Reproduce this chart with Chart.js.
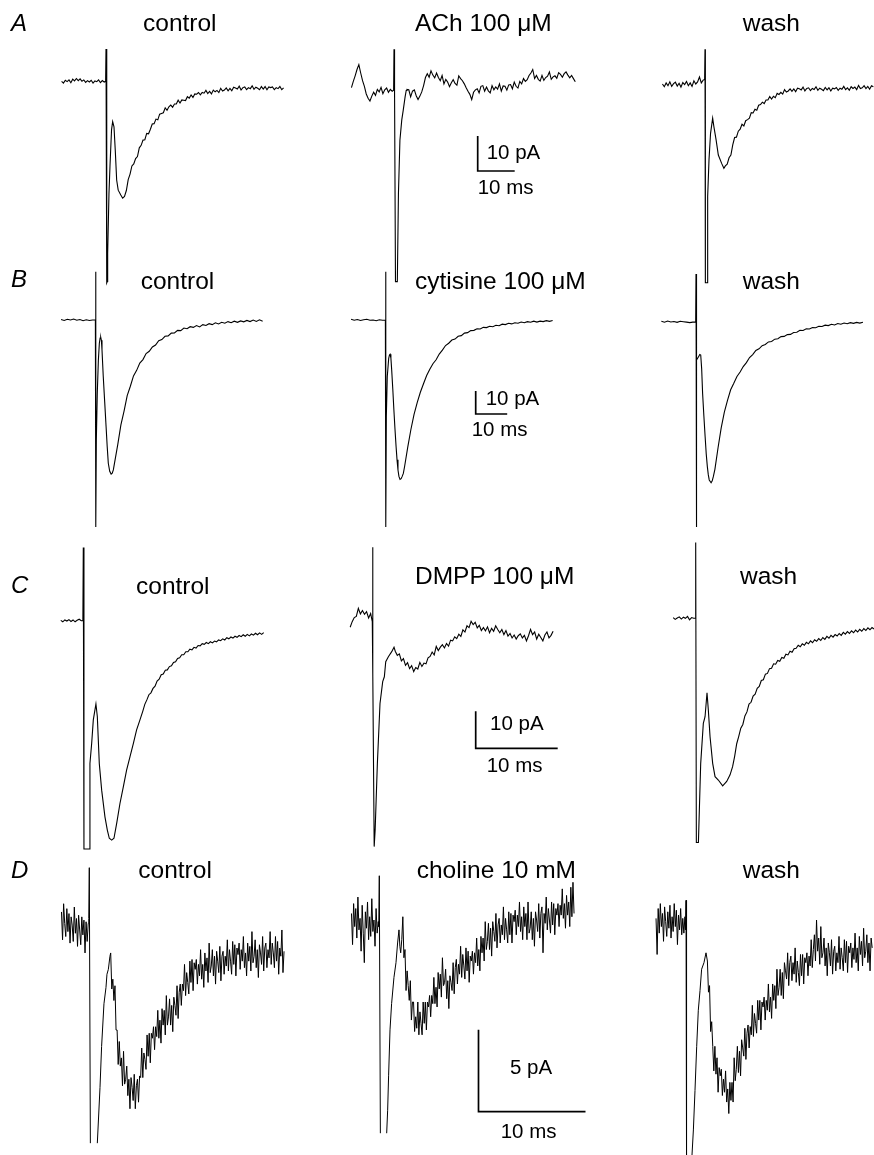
<!DOCTYPE html>
<html><head><meta charset="utf-8">
<script src="https://cdn.jsdelivr.net/npm/chart.js@4.4.1/dist/chart.umd.min.js"></script>
<style>
html,body{margin:0;padding:0;background:#fff;}
#fig{position:relative;width:874px;height:1155px;overflow:hidden;background:#fff;}
#fig canvas{position:absolute;left:0;top:0;}
.t{position:absolute;font-family:"Liberation Sans",Arial,Helvetica,sans-serif;color:#000;white-space:nowrap;line-height:1;}
</style></head><body><div id="fig"></div>
<script>
// ---------- DATA (time in ms from stimulus, current in pA relative to baseline) ----------
// Row A : ACh
const A1_pre  = [0.2,-0.3,0.5,0.1,0.6,-0.2,0.8,0.3,1.0,0.4,0.9,0.2,0.6,-0.1,0.4,0.0,0.5,-0.3,0.3,0.1,0.6,-0.2,0.4,0.0];
const A1_fast = [[-0.1,0.2],[0,9.4],[0.2,-57.4],[0.35,-57.0],[0.45,-48.9],[0.8,-32.0],[1.08,-24.0],[1.5,-13.6],[1.8,-11.3],[2.16,-12.8],[2.5,-19.4],[2.88,-28.0],[3.3,-30.9],[4.0,-32.3],[4.5,-33.2]];
const A1_post = [-32.7,-31.0,-27.9,-26.3,-24.0,-23.4,-21.9,-21.3,-18.8,-18.1,-16.6,-16.5,-14.7,-14.8,-13.5,-12.0,-11.9,-10.6,-10.8,-9.2,-9.0,-8.8,-7.4,-8.1,-7.1,-6.6,-7.2,-6.3,-6.3,-5.2,-6.0,-5.1,-5.2,-5.3,-4.2,-4.6,-3.7,-4.4,-3.4,-3.5,-3.0,-3.7,-3.0,-3.2,-2.4,-3.3,-2.7,-3.4,-2.3,-2.8,-2.4,-3.0,-1.8,-2.6,-2.3,-1.7,-2.5,-1.8,-2.5,-1.5,-1.7,-2.0,-1.2,-2.3,-1.6,-1.4,-2.2,-1.6,-1.9,-1.1,-2.1,-1.5,-1.8,-2.2,-1.3,-2.0,-1.3,-2.2,-1.4,-1.6,-1.4,-2.2,-1.6,-1.9,-1.3,-2.2,-1.7];
const A2_pre  = [0.0,1.8,3.4,5.2,6.6,4.2,2.0,0.4,-1.8,-3.0,-3.8,-2.4,-1.3,-2.2,-0.5,-1.2,0.1,-1.7,-0.6,-0.1,-1.3,-0.5,-1.0];
const A2_fast = [[-0.1,-0.7],[0,11.0],[0.15,-1.0],[0.4,-55.4],[0.9,-55.4],[1.2,-30.2],[1.6,-15.0],[2.1,-9.2],[2.5,-6.4],[3.0,-2.6],[3.3,-0.8]];
const A2_post = [-0.5,-0.6,-2.6,-1.0,-0.6,-2.3,-3.4,-2.4,-1.2,0.6,2.9,4.0,3.0,4.8,3.6,2.8,4.2,2.9,2.0,3.5,1.1,2.4,1.6,0.3,1.4,2.3,1.2,0.7,3.4,2.6,2.0,1.1,0.0,-1.0,-1.9,-3.4,-1.3,-0.6,-0.3,-1.5,0.4,0.6,-1.0,0.2,-0.9,-1.5,0.6,-0.6,0.2,-0.4,1.1,-1.0,0.5,0.4,-0.7,0.8,0.9,-0.3,1.6,0.4,-0.1,1.8,1.1,2.6,1.8,2.3,3.5,4.2,5.2,2.6,3.5,2.4,1.9,3.5,2.1,2.9,3.3,4.5,2.4,3.1,3.4,2.7,4.3,3.8,3.0,4.0,4.5,3.6,2.8,3.5,2.6,1.7];
const A3_pre  = [0.3,-0.5,0.6,-0.2,0.9,-0.4,0.4,0.8,-0.3,0.5,-0.6,0.7,0.1,1.0,-0.2,0.6,-0.4,1.2,0.3,0.9,2.3,0.6,1.4];
const A3_fast = [[-0.1,1.6],[0,10.2],[0.1,-56.5],[0.6,-56.5],[0.72,-31.9],[1.08,-21.4],[1.5,-13.8],[2.07,-9.5],[2.4,-11.9],[3.0,-15.7],[3.6,-20.0],[4.5,-22.4],[5.1,-23.8]];
const A3_post = [-23.1,-22.6,-20.8,-20.0,-17.1,-15.0,-14.9,-13.2,-12.6,-11.2,-11.7,-10.2,-9.9,-9.5,-7.9,-8.0,-6.9,-7.2,-5.8,-5.6,-4.9,-5.3,-4.3,-4.3,-3.3,-4.0,-3.2,-3.6,-2.4,-2.7,-2.1,-2.6,-1.3,-2.0,-1.7,-1.1,-1.8,-1.1,-1.9,-0.9,-1.1,-1.4,-0.6,-1.7,-1.0,-0.8,-1.6,-1.0,-1.3,-0.5,-1.5,-0.9,-1.2,-1.6,-0.7,-1.4,-0.8,-1.7,-0.9,-1.1,-0.7,-1.5,-0.9,-1.2,-0.4,-1.3,-0.8,-1.5,-0.5,-1.0,-0.6,-1.3,-0.1,-1.0,-0.8,-0.2,-1.0,-0.4,-1.2,-0.2,-0.5];
// Row B : cytisine
const B1_pre  = [0.2,-0.2,0.3,0.0,0.4,-0.1,0.2,-0.3,0.1,-0.2,0.0];
const B1_fast = [[-0.1,0.0],[0,21.0],[0.05,-90.0],[0.2,-52.2],[0.5,-31.9],[0.85,-17.4],[1.16,-10.1],[1.4,-7.8],[1.6,-7.5],[1.8,-8.8],[2.0,-13.0],[2.4,-24.6],[2.85,-35.5],[3.3,-46.4],[3.65,-55.0],[4.0,-62.3],[4.45,-65.8],[4.9,-67.0],[5.25,-66.6],[5.6,-65.2]];
const B1_post = [-62.0,-54.2,-45.6,-39.6,-32.9,-28.8,-24.3,-21.9,-18.7,-17.2,-14.6,-13.6,-11.7,-10.9,-9.0,-8.5,-7.1,-6.9,-5.7,-5.6,-4.5,-4.6,-3.5,-3.8,-2.9,-3.2,-2.4,-3.0,-2.0,-2.4,-1.6,-2.0,-1.2,-1.7,-1.0,-1.4,-0.7,-1.2,-0.5,-1.0,-0.4,-0.8,-0.2,-0.7,0.0,-0.6,0.1,-0.5];
const B2_pre  = [0.3,-0.1,0.2,-0.2,0.1,0.3,-0.1,0.0,-0.3,0.1,-0.1];
const B2_fast = [[-0.1,-0.1],[0,21.0],[0.05,-90.0],[0.2,-42.0],[0.5,-24.6],[0.95,-16.7],[1.2,-15.2],[1.4,-14.9],[1.65,-16.5],[1.9,-21.7],[2.25,-30.0],[2.6,-39.1],[2.95,-47.5],[3.3,-55.1],[3.6,-60.8],[3.9,-65.2],[4.2,-68.0],[4.55,-69.3],[4.9,-69.0],[5.2,-68.1],[5.6,-66.7]];
const B2_post = [-63.7,-55.3,-47.6,-41.0,-35.9,-31.4,-27.7,-24.1,-21.4,-19.0,-17.3,-14.8,-13.1,-11.1,-10.1,-8.7,-8.3,-7.1,-6.8,-5.7,-5.5,-4.6,-4.5,-3.8,-3.9,-3.2,-3.3,-2.7,-2.9,-2.3,-2.5,-1.8,-2.0,-1.4,-1.7,-1.2,-1.4,-0.9,-1.2,-0.7,-1.0,-0.5,-0.9,-0.5,-0.7,-0.3,-0.6,-0.2];
const B3_pre  = [0.2,-0.2,0.3,-0.1,0.1,-0.3,0.2,0.0,-0.2,-0.4,-0.2];
const B3_fast = [[-0.1,-0.2],[0,20.7],[0.05,-89.3],[0.15,-40.0],[0.3,-16.7],[0.9,-15.0],[1.2,-14.3],[1.5,-14.5],[1.8,-20.5],[2.1,-31.2],[2.5,-41.0],[2.9,-50.0],[3.25,-57.5],[3.6,-63.0],[3.9,-66.5],[4.2,-68.8],[4.8,-70.0],[5.15,-69.2],[5.5,-67.4]];
const B3_post = [-64.2,-54.8,-46.2,-39.3,-34.2,-29.6,-26.8,-23.8,-21.9,-19.5,-17.8,-15.6,-14.3,-12.5,-11.8,-10.4,-9.9,-8.8,-8.6,-7.6,-7.4,-6.5,-6.4,-5.6,-5.5,-4.7,-4.6,-3.7,-3.8,-3.1,-3.2,-2.5,-2.6,-2.0,-2.1,-1.5,-1.7,-1.1,-1.4,-0.8,-1.1,-0.6,-0.9,-0.4,-0.7,-0.3,-0.6,-0.2];
// Row C : DMPP
const C1_pre  = [0.1,-0.3,0.2,-0.1,0.3,-0.2,0.2,-0.3,0.1,0.4,0.0];
const C1_fast = [[-0.05,0.0],[0,19.8],[0.08,-61.7],[0.73,-61.7],[0.81,-38.6],[1.02,-33.2],[1.22,-26.8],[1.54,-22.5],[1.71,-25.9],[1.95,-38.6],[2.24,-45.8],[2.64,-53.0],[2.93,-56.6],[3.17,-58.8],[3.46,-59.3],[3.74,-58.8],[4.07,-54.8],[4.47,-49.4],[4.88,-44.9],[5.28,-40.4],[5.69,-36.8],[6.10,-33.2],[6.50,-29.5],[6.91,-26.8]];
const C1_post = [-26.2,-24.5,-22.6,-21.4,-20.0,-19.5,-18.3,-17.7,-16.3,-15.8,-14.6,-14.4,-13.4,-13.3,-12.4,-12.2,-11.3,-11.1,-10.2,-10.0,-9.2,-9.2,-8.4,-8.4,-7.7,-7.9,-7.2,-7.4,-6.7,-6.8,-6.2,-6.4,-5.9,-6.2,-5.7,-6.0,-5.5,-5.7,-5.2,-5.4,-4.9,-5.2,-4.6,-4.9,-4.4,-4.7,-4.2,-4.5,-4.0,-4.3,-3.8,-4.2,-3.7,-4.1,-3.6,-3.9,-3.4,-3.8,-3.3,-3.7,-3.2];
const C2_pre  = [-3.3,-1.8,-0.7,-0.4,1.8,0.3,1.2,0.2,0.9,-0.8,0.4];
const C2_fast = [[-0.05,-1.8],[0,18.3],[0.02,-15.8],[0.18,-62.6],[0.3,-58.0],[0.57,-40.1],[0.89,-23.9],[1.22,-18.0],[1.42,-16.7],[1.59,-12.6],[1.91,-11.3],[2.32,-9.9],[2.6,-8.7]];
const C2_post = [-9.8,-10.9,-10.5,-12.4,-11.8,-13.6,-12.9,-14.5,-13.7,-15.3,-14.2,-14.6,-12.8,-13.9,-13.0,-13.2,-11.6,-11.2,-10.0,-10.8,-8.5,-9.6,-8.7,-8.0,-8.9,-7.7,-8.4,-6.8,-7.0,-5.9,-6.4,-5.2,-5.8,-4.0,-4.6,-2.9,-3.4,-1.7,-2.6,-2.0,-3.5,-2.8,-4.2,-3.4,-4.3,-3.2,-4.8,-3.6,-4.4,-2.9,-3.9,-4.8,-3.9,-5.3,-4.2,-5.7,-5.0,-6.2,-5.4,-6.5,-5.6,-5.1,-6.2,-5.5,-7.0,-5.6,-3.9,-5.3,-4.6,-6.5,-5.2,-6.1,-7.0,-5.4,-4.6,-6.2,-5.5,-4.4];
const C3_pre  = [0.2,-0.3,0.1,0.4,-0.2,0.3,0.0,0.5,-0.4,0.2,0.0];
const C3_fast = [[-0.05,0.0],[0,20.5],[0.08,-60.6],[0.33,-60.6],[0.61,-39.2],[0.93,-28.4],[1.14,-26.6],[1.38,-20.1],[1.54,-24.8],[1.75,-32.0],[2.07,-39.2],[2.36,-42.8],[2.76,-43.7],[3.29,-45.3],[3.78,-44.1],[4.19,-42.3]];
const C3_post = [-40.1,-37.3,-33.9,-31.9,-29.7,-28.7,-26.4,-25.3,-23.2,-22.7,-21.0,-20.5,-18.9,-18.4,-16.8,-16.6,-15.1,-14.9,-13.6,-13.5,-12.3,-12.4,-11.4,-11.6,-10.6,-10.8,-9.7,-9.9,-8.9,-9.2,-8.2,-8.1,-7.3,-7.7,-6.9,-7.3,-6.5,-6.9,-6.1,-6.6,-5.8,-6.2,-5.5,-6.0,-5.2,-5.7,-4.9,-5.4,-4.6,-5.1,-4.4,-4.8,-4.1,-4.6,-3.8,-4.3,-3.6,-4.1,-3.4,-3.9,-3.2,-3.7,-3.0,-3.5,-2.8,-3.3,-2.6,-3.1,-2.5,-2.9];
// Row D : choline
const D1_pre  = [0.9,-0.8,1.4,0.2,-0.6,1.1,-0.3,0.8,-1.0,0.6,0.1,-0.9,1.2,-0.4,0.5,-1.2,0.7,-0.2,-1.1,0.6,-0.5,0.4,-1.6,0.3,-0.9,0.2];
const D1_fast = [[-0.05,0.5],[0,3.6],[0.1,-13.2],[0.4,null],[0.75,-13.2],[1.0,-9.8],[1.15,-7.3],[1.37,-4.7],[1.56,-3.7],[1.65,-2.9],[1.78,-2.6],[1.93,-1.8]];
const D1_post = [-1.6,-3.8,-3.2,-4.5,-3.6,-6.3,-6.3,-8.4,-7.0,-8.5,-8.0,-9.7,-7.6,-9.6,-9.3,-8.5,-10.3,-9.3,-11.1,-9.2,-9.8,-10.6,-9.0,-11.1,-9.7,-9.3,-10.7,-9.1,-9.2,-7.4,-9.2,-7.7,-8.1,-8.7,-6.6,-7.9,-6.5,-8.3,-6.5,-6.8,-6.1,-7.5,-6.1,-6.7,-5.1,-6.8,-5.7,-7.1,-5.0,-6.0,-5.1,-6.6,-4.2,-6.0,-5.5,-4.4,-6.0,-4.8,-6.4,-4.3,-4.8,-5.4,-3.6,-5.6,-4.0,-3.5,-4.8,-3.5,-3.9,-2.3,-4.2,-2.8,-3.4,-4.1,-2.1,-3.4,-2.0,-3.9,-2.2,-2.6,-2.0,-3.5,-2.3,-3.0,-1.4,-3.2,-2.3,-3.7,-1.6,-2.7,-1.9,-3.4,-1.0,-2.8,-2.4,-1.4,-3.0,-1.8,-3.5,-1.5,-2.1,-2.8,-1.2,-3.3,-1.8,-1.5,-2.9,-1.8,-2.4,-0.8,-2.7,-1.4,-2.1,-2.9,-0.9,-2.3,-1.1,-3.0,-1.3,-1.7,-1.0,-2.6,-1.4,-2.1,-0.6,-2.5,-1.6,-3.0,-1.0,-2.1,-1.2,-2.7,-0.3,-2.2,-1.8,-0.8,-2.5,-1.4,-3.1,-1.1,-1.6,-2.3,-0.6,-2.7,-1.3,-1.0,-2.5,-1.4,-1.9,-0.3,-2.3,-1.0,-1.6,-2.5,-0.6,-2.1,-0.9,-2.9,-1.3,-1.8,-0.2,-2.8,-1.5];
const D2_pre  = [0.6,-1.3,1.2,-0.2,0.9,-0.9,1.6,-0.4,0.3,-1.7,1.1,-0.6,-2.4,0.7,-0.3,1.3,-1.0,0.4,-0.8,1.5,-0.5,0.2,-1.4,0.9,-0.6,0.1];
const D2_fast = [[-0.05,-0.2],[0,2.9],[0.1,-12.8],[0.4,null],[0.69,-12.8],[0.78,-11.4],[0.87,-9.3],[1.0,-6.5],[1.15,-4.9],[1.37,-3.3],[1.56,-2.4],[1.71,-1.2],[1.84,-0.4],[1.92,-1.4]];
const D2_post = [-1.8,-1.0,0.4,-2.1,-1.6,-4.1,-2.9,-3.8,-4.7,-3.5,-5.9,-4.8,-4.8,-6.6,-5.7,-6.4,-4.8,-6.8,-5.4,-6.1,-6.8,-4.8,-6.1,-4.8,-6.5,-4.8,-5.1,-4.4,-5.7,-4.4,-4.9,-3.3,-4.9,-3.9,-5.1,-3.0,-4.0,-3.1,-4.5,-2.1,-3.8,-3.6,-2.8,-4.6,-3.5,-5.2,-3.2,-3.6,-4.1,-2.4,-4.3,-2.7,-2.2,-3.7,-2.5,-3.1,-1.4,-3.3,-1.9,-2.6,-3.4,-1.5,-2.9,-1.7,-3.6,-2.0,-2.3,-1.7,-3.1,-1.8,-2.4,-0.9,-2.6,-1.6,-2.9,-0.8,-1.8,-0.9,-2.3,0.1,-1.6,-1.1,0.0,-1.6,-0.3,-2.0,0.1,-0.5,-1.1,0.6,-1.5,-0.1,0.3,-1.2,-0.1,-0.7,1.0,-1.0,0.3,-0.4,-1.2,0.7,-0.7,0.6,-1.2,0.5,0.1,0.8,-0.7,0.5,-0.2,1.3,-0.5,0.4,-1.0,1.0,-0.2,0.6,-1.0,1.3,-0.6,-0.3,0.7,-1.0,0.3,-1.4,0.7,0.2,-0.5,1.2,-0.9,0.6,1.0,-1.8,0.6,0.0,1.6,-0.4,0.9,0.2,-0.6,1.3,-0.1,1.2,-0.7,0.9,0.5,1.2,-0.2,1.1,0.5,2.1,0.3,1.2,-0.3,1.7,0.5,1.3,-0.2,2.2,0.4,2.5,0.6];
const D3_pre  = [0.3,-1.9,0.9,-0.6,1.2,-0.2,0.6,-1.1,1.0,0.1,-0.8,0.7,-0.3,1.1,-0.9,0.4,-0.5,1.2,-0.2,0.8,-1.3,0.5,-0.4,0.9,-0.7,0.3,-0.6,0.4];
const D3_fast = [[-0.05,-0.4],[0,1.4],[0.05,-14.5],[0.3,null],[0.53,-14.5],[0.69,-12.6],[0.84,-10.2],[1.0,-7.5],[1.15,-5.3],[1.31,-4.1],[1.46,-2.8],[1.68,-2.4],[1.87,-1.8]];
const D3_post = [-2.3,-4.2,-3.8,-6.6,-6.0,-7.5,-9.0,-7.5,-9.2,-8.2,-10.3,-8.8,-9.3,-8.9,-10.5,-9.5,-10.3,-9.0,-10.9,-10.1,-11.6,-9.7,-10.8,-9.7,-10.9,-8.2,-9.6,-8.9,-7.5,-9.1,-7.8,-9.3,-7.1,-7.6,-8.1,-6.4,-8.3,-6.7,-6.2,-7.6,-6.3,-6.8,-5.0,-6.9,-5.5,-6.1,-6.7,-4.7,-5.9,-4.7,-6.5,-4.8,-5.1,-4.5,-5.9,-4.7,-5.3,-3.7,-5.4,-4.5,-5.8,-3.7,-4.7,-3.8,-5.2,-2.8,-4.4,-3.9,-2.8,-4.4,-3.0,-4.6,-2.4,-2.9,-3.4,-1.8,-3.8,-2.4,-2.0,-3.5,-2.4,-3.1,-1.5,-3.6,-2.3,-3.0,-3.8,-1.9,-3.2,-1.9,-3.7,-2.1,-2.4,-1.8,-3.2,-2.0,-2.6,-1.0,-2.7,-1.6,-0.7,-2.3,0.2,-1.7,-0.9,-2.5,-0.2,-2.1,-1.8,-0.9,-2.6,-1.5,-3.2,-1.2,-1.8,-2.6,-1.0,-3.1,-1.7,-1.4,-2.9,-1.8,-2.4,-0.8,-2.8,-1.5,-2.1,-2.9,-1.0,-2.4,-1.1,-3.0,-1.4,-1.8,-1.2,-2.7,-1.5,-2.2,-0.6,-2.4,-1.5,-2.9,-0.8,-1.9,-1.1,-2.6,-0.3,-2.1,-1.7,-0.7,-2.4,-1.2,-2.9,-0.9,-1.5];

// sampling grids (ms): [pre start, post start, step]
const GRID = {
  A1:[-12,5,0.5], A2:[-11.5,3.5,0.5], A3:[-11.5,5.5,0.5],
  B1:[-11,6,1], B2:[-11,6,1], B3:[-11,6,1],
  C1:[-2.75,7,0.25], C2:[-2.75,2.75,0.25], C3:[-2.75,4.5,0.25],
  D1:[-2.6,2,0.1], D2:[-2.6,2,0.1], D3:[-2.8,2,0.1]
};
// scale bars: [ms, pA]
const SCALE_MS = {A:10, B:10, C:10, D:10};
const SCALE_PA = {A:10, B:10, C:10, D:5};
const COND = {A:"ACh 100 μM", B:"cytisine 100 μM", C:"DMPP 100 μM", D:"choline 10 mM"};

// ---------- LAYOUT (pixels) ----------
const W = 874, H = 1155;
const ROWCAL = {A:{kx:3.7,ky:3.5}, B:{kx:3.15,ky:2.3}, C:{kx:8.2,ky:3.7}, D:{kx:10.7,ky:16.4}};
const ORIGIN = { A1:[106,82], A2:[394,87.7], A3:[705,85], B1:[95.7,320], B2:[385.7,320], B3:[696,321.7],
  C1:[83.3,620.7], C2:[372.7,615], C3:[695.7,618.3], D1:[89.3,926.7], D2:[379.3,923.3], D3:[686,923.3] };
const BARPOS = {A:[477.7,171], B:[475.7,414], C:[475.7,748.3], D:[478.5,1111.7]};

const SRC = {A1:[A1_pre,A1_fast,A1_post],A2:[A2_pre,A2_fast,A2_post],A3:[A3_pre,A3_fast,A3_post],
  B1:[B1_pre,B1_fast,B1_post],B2:[B2_pre,B2_fast,B2_post],B3:[B3_pre,B3_fast,B3_post],
  C1:[C1_pre,C1_fast,C1_post],C2:[C2_pre,C2_fast,C2_post],C3:[C3_pre,C3_fast,C3_post],
  D1:[D1_pre,D1_fast,D1_post],D2:[D2_pre,D2_fast,D2_post],D3:[D3_pre,D3_fast,D3_post]};

const fig = document.getElementById('fig');

function series(id){
  const [pre,fast,post] = SRC[id];
  const [t0pre,t0post,dt] = GRID[id];
  const pts=[];
  pre.forEach((v,i)=>pts.push({x:+(t0pre+i*dt).toFixed(3), y:v}));
  fast.forEach(([t,v])=>pts.push({x:t, y:v}));
  post.forEach((v,i)=>pts.push({x:+(t0post+i*dt).toFixed(3), y:v}));
  return pts;
}

function panel(id){
  const row = id[0];
  const {kx,ky} = ROWCAL[row];
  const [sx,sy] = ORIGIN[id];
  const datasets = [{data:series(id), borderColor:'#000', borderWidth:row==='D'?1.0:1.1, pointRadius:0, fill:false, spanGaps:false, tension:0}];
  if (id[1]==='2'){
    const [cx,cy] = BARPOS[row];
    const t0=(cx-sx)/kx, i0=(sy-cy)/ky;
    datasets.push({data:[{x:t0,y:i0+SCALE_PA[row]},{x:t0,y:i0},{x:t0+SCALE_MS[row],y:i0}],
      borderColor:'#000', borderWidth:1.7, pointRadius:0, fill:false, tension:0});
  }
  const cv=document.createElement('canvas');
  cv.width=W; cv.height=H; cv.style.width=W+'px'; cv.style.height=H+'px';
  fig.appendChild(cv);
  new Chart(cv,{type:'line', data:{datasets},
    options:{responsive:false, animation:false, devicePixelRatio:1, events:[],
      layout:{padding:0},
      plugins:{legend:{display:false}, tooltip:{enabled:false}},
      scales:{x:{type:'linear', display:false, min:-sx/kx, max:(W-sx)/kx},
              y:{type:'linear', display:false, min:(sy-H)/ky, max:sy/ky}},
      elements:{point:{radius:0}, line:{tension:0}}}});
}
Object.keys(ORIGIN).forEach(panel);

// ---------- TEXT ----------
function label(txt,x,base,size,italic){
  const d=document.createElement('div'); d.className='t'; d.textContent=txt;
  d.style.fontSize=size+'px'; d.style.left=x+'px'; d.style.top=(base-0.8465*size)+'px';
  if(italic) d.style.fontStyle='italic';
  fig.appendChild(d);
}
const LETTERS = [['A',11,31],['B',11,287],['C',11,593],['D',11,878]];
LETTERS.forEach(([t,x,b])=>label(t,x,b,24,true));
const TITLES = [
  ['control',143,31.5],[COND.A,415,31.5],['wash',742.7,31.5],
  ['control',140.7,290],[COND.B,415,290],['wash',742.7,290],
  ['control',136,595],[COND.C,415,585],['wash',740,585],
  ['control',138.3,878.3],[COND.D,416.7,878.3],['wash',742.7,878.3]];
TITLES.forEach(([t,x,b])=>label(t,x,b,24.5,false));
const BARTXT = [
  [SCALE_PA.A+' pA',486.7,159.3],[SCALE_MS.A+' ms',477.7,194.3],
  [SCALE_PA.B+' pA',485.7,405.7],[SCALE_MS.B+' ms',471.7,436.7],
  [SCALE_PA.C+' pA',490,730],[SCALE_MS.C+' ms',486.7,772.3],
  [SCALE_PA.D+' pA',510,1074.3],[SCALE_MS.D+' ms',500.7,1138.3]];
BARTXT.forEach(([t,x,b])=>label(t,x,b,20.5,false));
</script></body></html>
